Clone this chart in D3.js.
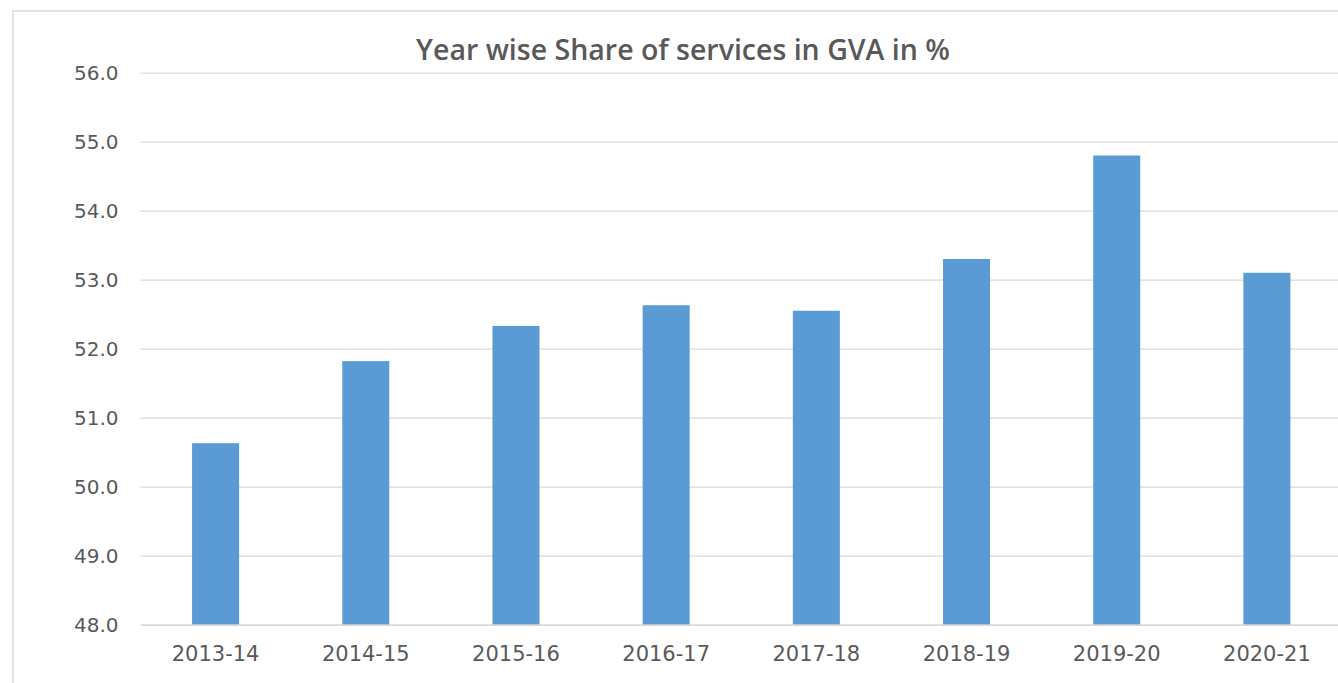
<!DOCTYPE html>
<html>
<head>
<meta charset="utf-8">
<script src="https://cdn.jsdelivr.net/npm/d3@7"></script>
<style>
  body { margin: 0; background: #fff; }
  svg { display: block; }
</style>
</head>
<body>
<div id="chart"></div>
<script>
// data
const years = ["2013-14", "2014-15", "2015-16", "2016-17", "2017-18", "2018-19", "2019-20", "2020-21"];
const shares = [50.63, 51.82, 52.33, 52.63, 52.55, 53.30, 54.80, 53.10];
const yTicks = [48, 49, 50, 51, 52, 53, 54, 55, 56];

const width = 1338;
const height = 683;
const margin = { top: 72.7, right: -4, bottom: 58.3, left: 140.5 };

const svg = d3.select("#chart")
  .append("svg")
  .attr("width", width)
  .attr("height", height);

// chart area border (continues past the right and bottom edge)
svg.append("rect")
  .attr("x", 13)
  .attr("y", 11)
  .attr("width", width + 20)
  .attr("height", height + 20)
  .attr("fill", "none")
  .attr("stroke", "#d9d9d9")
  .attr("stroke-width", 1.5);

const x = d3.scaleBand()
  .domain(years)
  .range([margin.left, width - margin.right])
  .paddingInner(0.687)
  .paddingOuter(0.3435);

const y = d3.scaleLinear()
  .domain([48, 56])
  .range([height - margin.bottom, margin.top]);

// gridlines + y labels
const yAxis = d3.axisLeft(y)
  .tickValues(yTicks)
  .tickFormat(d3.format(".1f"))
  .tickSize(-(width - margin.right - margin.left))
  .tickPadding(22);

const gy = svg.append("g")
  .attr("transform", `translate(${margin.left},0)`)
  .call(yAxis);
gy.select(".domain").remove();
gy.selectAll("line")
  .attr("stroke", "#d9d9d9")
  .attr("stroke-width", 1.3);
gy.selectAll("text")
  .attr("fill", "#595959")
  .style("font-family", "'DejaVu Sans', sans-serif")
  .style("font-size", "20px");

// bars
svg.append("g")
  .selectAll("rect")
  .data(shares)
  .join("rect")
  .attr("x", (d, i) => x(years[i]))
  .attr("y", d => y(d))
  .attr("width", x.bandwidth())
  .attr("height", d => y(48) - y(d))
  .attr("fill", "#5b9bd5");

// x axis line + labels
const gx = svg.append("g")
  .attr("transform", `translate(0,${y(48)})`)
  .call(d3.axisBottom(x).tickSize(0).tickPadding(21));
gx.select(".domain")
  .attr("stroke", "#d9d9d9")
  .attr("stroke-width", 1.6);
gx.selectAll("text")
  .attr("fill", "#595959")
  .style("font-family", "'DejaVu Sans', sans-serif")
  .style("font-size", "21px");

// title
svg.append("text")
  .attr("x", 683)
  .attr("y", 60)
  .attr("text-anchor", "middle")
  .attr("fill", "#595959")
  .style("font-family", "'Open Sans', sans-serif")
  .style("font-weight", 600)
  .style("font-size", "28.5px")
  .text("Year wise Share of services in GVA in %");
</script>
</body>
</html>
